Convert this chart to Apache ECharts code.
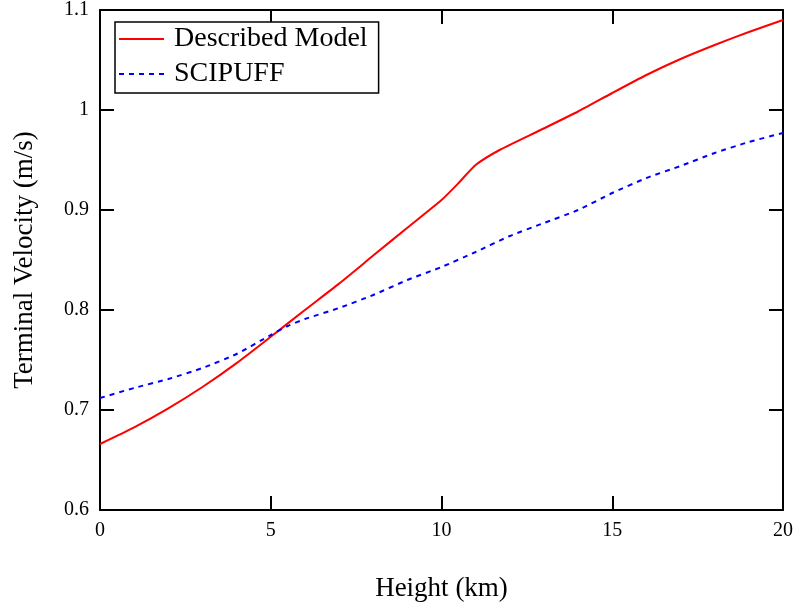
<!DOCTYPE html>
<html>
<head>
<meta charset="utf-8">
<script src="https://cdn.jsdelivr.net/npm/echarts@6/dist/echarts.min.js"></script>
<style>
html,body{margin:0;padding:0;background:#fff;}
#chart{width:796px;height:607px;}
</style>
</head>
<body>
<div id="chart"></div>
<script>
var heightKm = [0,1,2,3,4,5,6,7,8,9,10,10.5,11,11.7,12.9,14,15,16,17,18,19,20];
var describedModel = [0.666,0.6826,0.7016,0.723,0.7469,0.7732,0.800,0.8264,0.8544,0.8823,0.910,0.927,0.945,0.960,0.980,0.9985,1.017,1.035,1.051,1.065,1.078,1.090];
var scipuffHeight = [0,1,2,3,4,5,5.5,6,7,8,9,10,11,12,13,14,15,16,17,18,19,20];
var scipuff = [0.712,0.722,0.731,0.742,0.756,0.775,0.784,0.791,0.802,0.815,0.830,0.843,0.858,0.874,0.887,0.900,0.917,0.932,0.944,0.957,0.968,0.977];
var xTicks = ['0','5','10','15','20'];
var yTicks = ['0.6','0.7','0.8','0.9','1','1.1'];
var seriesNames = ['Described Model','SCIPUFF'];

var FONT = 'Liberation Serif';
function pairs(xs, ys){ return xs.map(function(x,i){ return [x, ys[i]]; }); }

var axisLine = {show:true, onZero:false, lineStyle:{color:'#000', width:2}};
var axisTick = {show:true, inside:true, length:14, lineStyle:{color:'#000', width:2}};

var chart = echarts.init(document.getElementById('chart'), null, {renderer:'canvas'});
chart.setOption({
  animation:false,
  backgroundColor:'#fff',
  grid:{left:100, right:13, top:5, bottom:95, containLabel:false},
  legend:{
    orient:'vertical', left:115, top:22,
    data:seriesNames,
    itemWidth:45, itemHeight:14, itemGap:7,
    padding:[3,11,5,3],
    borderColor:'#000', borderWidth:1.5, borderRadius:0,
    backgroundColor:'#fff',
    itemStyle:{color:'rgba(0,0,0,0)', borderColor:'rgba(0,0,0,0)', borderWidth:0, opacity:0},
    textStyle:{fontFamily:FONT, fontSize:28, color:'#000', padding:[0,0,0,5]}
  },
  xAxis:[
    {type:'value', position:'bottom', min:0, max:20, interval:5,
     axisLine:axisLine, axisTick:axisTick, splitLine:{show:false},
     axisLabel:{fontFamily:FONT, fontSize:20, color:'#000', margin:11,
       formatter:function(v,i){ return xTicks[i]; }},
     name:'Height (km)', nameLocation:'middle', nameGap:65,
     nameTextStyle:{fontFamily:FONT, fontSize:27, color:'#000'}},
    {type:'value', position:'top', min:0, max:20, interval:5,
     axisLine:axisLine, axisTick:axisTick, splitLine:{show:false},
     axisLabel:{show:false}}
  ],
  yAxis:[
    {type:'value', position:'left', min:0.6, max:1.1, interval:0.1,
     axisLine:axisLine, axisTick:axisTick, splitLine:{show:false},
     axisLabel:{fontFamily:FONT, fontSize:20, color:'#000', margin:11,
       formatter:function(v,i){ return yTicks[i]; }},
     name:'Terminal Velocity (m/s)', nameLocation:'middle', nameGap:62,
     nameTextStyle:{fontFamily:FONT, fontSize:27, color:'#000'}},
    {type:'value', position:'right', min:0.6, max:1.1, interval:0.1,
     axisLine:axisLine, axisTick:axisTick, splitLine:{show:false},
     axisLabel:{show:false}}
  ],
  series:[
    {name:seriesNames[0], type:'line', data:pairs(heightKm, describedModel),
     showSymbol:false, symbol:'none', smooth:0.2,
     lineStyle:{color:'#ff0000', width:2}, itemStyle:{color:'#ff0000'}},
    {name:seriesNames[1], type:'line', data:pairs(scipuffHeight, scipuff),
     showSymbol:false, symbol:'none', smooth:0.2,
     lineStyle:{color:'#0000ff', width:2, type:[5,5]}, itemStyle:{color:'#0000ff'}}
  ]
});
</script>
</body>
</html>
